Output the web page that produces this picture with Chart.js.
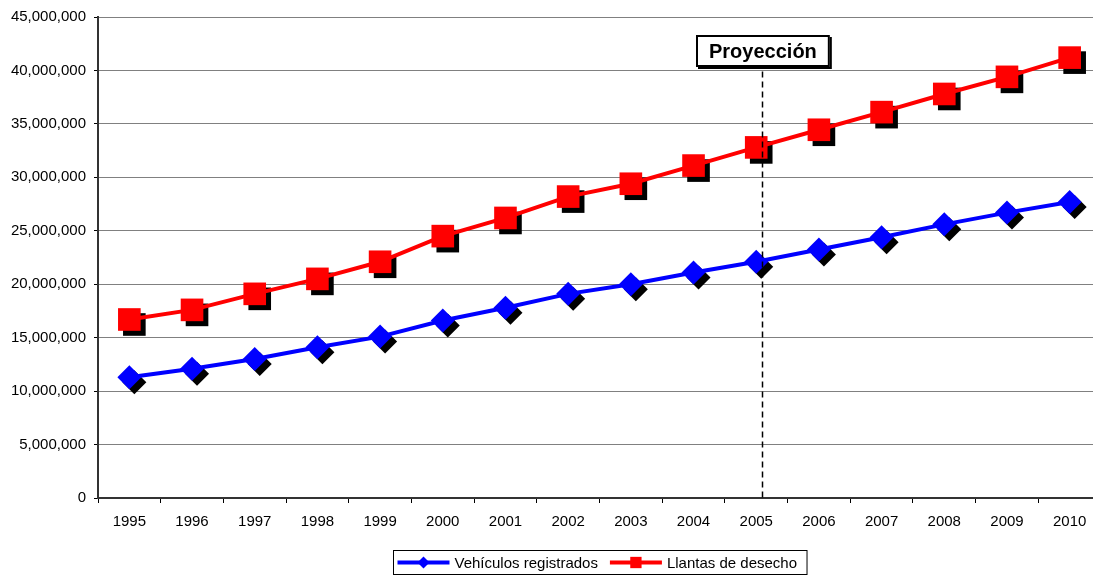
<!DOCTYPE html>
<html>
<head>
<meta charset="utf-8">
<script src="https://cdn.jsdelivr.net/npm/chart.js@4/dist/chart.umd.min.js"></script>
<style>
  html, body { margin: 0; padding: 0; background: #fff; overflow: hidden; }
  #wrap { width: 1117px; height: 575px; }
</style>
</head>
<body>
<div id="wrap"><canvas id="c" width="1117" height="575"></canvas></div>
<script>
// Years on the category axis
const years = ['1995','1996','1997','1998','1999','2000','2001','2002',
               '2003','2004','2005','2006','2007','2008','2009','2010'];

// Registered vehicles
const vehiculos = [11300000, 12100000, 13000000, 14100000, 15100000, 16600000,
                   17800000, 19100000, 20000000, 21100000, 22100000, 23250000,
                   24400000, 25600000, 26700000, 27700000];

// Waste tyres
const llantas = [16700000, 17600000, 19100000, 20500000, 22100000, 24500000,
                 26200000, 28200000, 29400000, 31100000, 32800000, 34450000,
                 36100000, 37800000, 39400000, 41200000];

const seriesNames = ['Vehículos registrados', 'Llantas de desecho'];
const projectionLabel = 'Proyección';
const projectionYear = '2005';

const FONT = 'Arial, "Liberation Sans", sans-serif';

// Black drop shadow behind each marker
const markerShadow = {
  id: 'markerShadow',
  beforeDatasetDraw(chart, args) {
    const ctx = chart.ctx;
    const ds = chart.data.datasets[args.index];
    ctx.save();
    ctx.fillStyle = '#000';
    args.meta.data.forEach(pt => {
      Chart.helpers.drawPoint(ctx, {
        pointStyle: ds.pointStyle, rotation: 0,
        radius: ds.pointRadius, borderWidth: 0
      }, pt.x + 5, pt.y + 5);
    });
    ctx.restore();
  }
};

// Dashed divider and the boxed label over it
const projection = {
  id: 'projection',
  afterDatasetsDraw(chart) {
    const ctx = chart.ctx;
    const xs = chart.scales.x, ys = chart.scales.y;
    const idx = years.indexOf(projectionYear);
    const x = Math.round(xs.getPixelForValue(idx + 0.1)) + 0.5;
    const gridY = ys.getPixelForValue(40000000);

    ctx.save();
    ctx.font = 'bold 20px ' + FONT;
    const tw = ctx.measureText(projectionLabel).width;
    const bw = tw + 26, bh = 32;
    const bx = Math.round(x - bw / 2), by = Math.round(gridY - 3 - bh);

    // dashed line
    ctx.strokeStyle = '#000';
    ctx.lineWidth = 1.5;
    ctx.setLineDash([6, 4]);
    ctx.beginPath();
    ctx.moveTo(x, gridY + 1);
    ctx.lineTo(x, chart.chartArea.bottom);
    ctx.stroke();
    ctx.setLineDash([]);

    // box with a small shadow
    ctx.fillStyle = '#000';
    ctx.fillRect(bx + 2, by + 2, bw, bh);
    ctx.fillStyle = '#fff';
    ctx.fillRect(bx, by, bw, bh);
    ctx.lineWidth = 2;
    ctx.strokeStyle = '#000';
    ctx.strokeRect(bx + 1, by + 1, bw - 2, bh - 2);

    ctx.fillStyle = '#000';
    ctx.textAlign = 'center';
    ctx.textBaseline = 'middle';
    ctx.fillText(projectionLabel, bx + bw / 2, by + bh / 2 + 1);
    ctx.restore();
  }
};

// Boxed legend under the plot
const boxLegend = {
  id: 'boxLegend',
  afterDraw(chart) {
    const ctx = chart.ctx;
    const dsets = chart.data.datasets;
    ctx.save();
    ctx.font = '15px ' + FONT;
    const lineLen = 52, gapAfterLine = 5, gapBetween = 12, padL = 4, padR = 10;
    let total = padL;
    dsets.forEach((d, i) => {
      total += lineLen + gapAfterLine + ctx.measureText(d.label).width;
      if (i < dsets.length - 1) total += gapBetween;
    });
    total += padR;
    const cx = 600;
    const left = Math.round(cx - total / 2) + 0.5;
    const top = 550.5, h = 24;
    ctx.fillStyle = '#fff';
    ctx.fillRect(left, top, total, h);
    ctx.strokeStyle = '#000';
    ctx.lineWidth = 1;
    ctx.strokeRect(left, top, total, h);

    let x = left + padL;
    const cy = top + h / 2;
    dsets.forEach((d, i) => {
      ctx.strokeStyle = d.borderColor;
      ctx.lineWidth = 4;
      ctx.beginPath();
      ctx.moveTo(x, cy);
      ctx.lineTo(x + lineLen, cy);
      ctx.stroke();
      ctx.fillStyle = d.backgroundColor;
      Chart.helpers.drawPoint(ctx, {
        pointStyle: d.pointStyle, rotation: 0,
        radius: d.pointStyle === 'rect' ? 8 : 6, borderWidth: 0
      }, x + lineLen / 2, cy);
      x += lineLen + gapAfterLine;
      ctx.fillStyle = '#000';
      ctx.textAlign = 'left';
      ctx.textBaseline = 'middle';
      ctx.fillText(d.label, x, cy + 1);
      x += ctx.measureText(d.label).width + gapBetween;
    });
    ctx.restore();
  }
};

new Chart(document.getElementById('c'), {
  type: 'line',
  data: {
    labels: years,
    datasets: [
      {
        label: seriesNames[0],
        data: vehiculos,
        borderColor: '#0000FF',
        backgroundColor: '#0000FF',
        borderWidth: 4,
        pointStyle: 'rectRot',
        pointRadius: 12,
        pointBorderWidth: 0,
        pointBackgroundColor: '#0000FF',
        tension: 0,
        clip: false
      },
      {
        label: seriesNames[1],
        data: llantas,
        borderColor: '#FF0000',
        backgroundColor: '#FF0000',
        borderWidth: 4,
        pointStyle: 'rect',
        pointRadius: 16,
        pointBorderWidth: 0,
        pointBackgroundColor: '#FF0000',
        tension: 0,
        clip: false
      }
    ]
  },
  options: {
    responsive: false,
    animation: false,
    devicePixelRatio: 1,
    layout: { padding: { top: 16, left: 0, right: 0, bottom: 0 } },
    plugins: {
      legend: { display: false },
      tooltip: { enabled: false }
    },
    scales: {
      x: {
        type: 'category',
        offset: true,
        grid: {
          offset: true,
          drawOnChartArea: false,
          drawTicks: true,
          tickLength: 5,
          tickColor: '#000'
        },
        border: { color: '#333', width: 2 },
        ticks: {
          color: '#000',
          font: { family: FONT, size: 15 },
          padding: 10,
          maxRotation: 0,
          autoSkip: false
        },
        afterFit(scale) { scale.height = 77; }
      },
      y: {
        min: 0,
        max: 45000000,
        grid: {
          color: '#808080',
          lineWidth: 1,
          tickLength: 4,
          tickColor: '#000'
        },
        border: { color: '#333', width: 2 },
        ticks: {
          stepSize: 5000000,
          color: '#000',
          font: { family: FONT, size: 15 },
          padding: 8,
          callback: v => Number(v).toLocaleString('en-US')
        },
        afterFit(scale) { scale.width = 98; }
      }
    }
  },
  plugins: [markerShadow, projection, boxLegend]
});
</script>
</body>
</html>
